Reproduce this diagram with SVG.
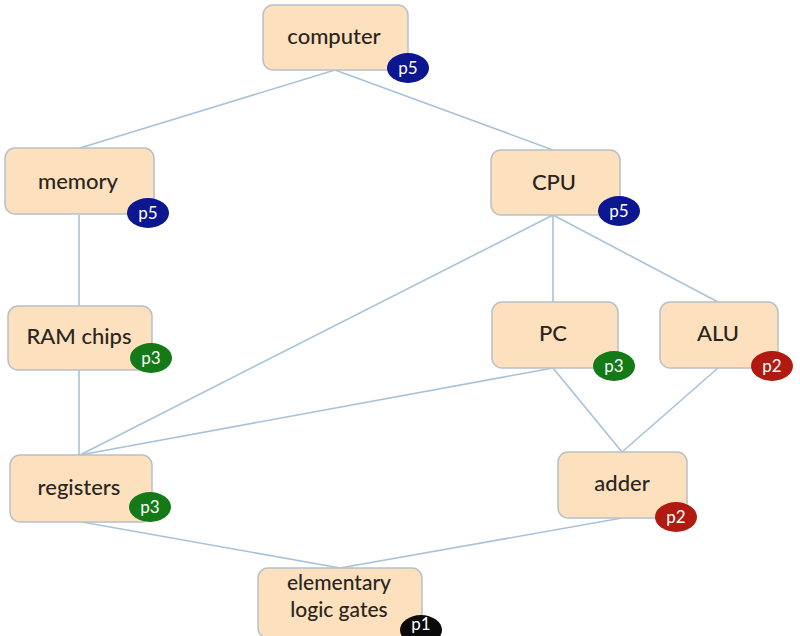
<svg xmlns="http://www.w3.org/2000/svg" width="800" height="636" viewBox="0 0 800 636">
<style>
.box{fill:#fde1be;stroke:#b9c0c8;stroke-width:1.5}
.lbl{font-family:Lato,"Open Sans","Liberation Sans",sans-serif;font-size:22px;font-weight:500;fill:#2b2420;text-anchor:middle}
.sm{font-size:21px}
.edge{stroke:#a8c2da;stroke-width:1.6;fill:none}
.bt{font-family:Lato,"Open Sans","Liberation Sans",sans-serif;font-size:17px;fill:#ffffff;text-anchor:middle}
.p5{fill:#0b1690}
.p3{fill:#137a17}
.p2{fill:#b11a10}
.p1{fill:#0a0a0a}
</style>
<rect width="800" height="636" fill="#ffffff"/>
<g id="connectors">
<line class="edge" x1="335" y1="70" x2="80" y2="148"/>
<line class="edge" x1="335" y1="70" x2="553" y2="150"/>
<line class="edge" x1="79" y1="215" x2="79" y2="306"/>
<line class="edge" x1="553" y1="215" x2="553" y2="302"/>
<line class="edge" x1="553" y1="215" x2="718" y2="302"/>
<line class="edge" x1="553" y1="215" x2="80" y2="455"/>
<line class="edge" x1="79" y1="370" x2="79" y2="455"/>
<line class="edge" x1="553" y1="368" x2="80" y2="455"/>
<line class="edge" x1="553" y1="368" x2="622" y2="452"/>
<line class="edge" x1="718" y1="368" x2="622" y2="452"/>
<line class="edge" x1="82" y1="522" x2="340" y2="568"/>
<line class="edge" x1="622" y1="518" x2="340" y2="568"/>
</g>
<g id="computer">
<rect class="box" x="263" y="5" width="145" height="65" rx="10"/>
<text class="lbl" x="334" y="44">computer</text>
<ellipse class="p5" cx="408" cy="68" rx="21" ry="15"/>
<text class="bt" x="408" y="74">p5</text>
</g>
<g id="memory">
<rect class="box" x="5" y="148" width="149" height="66" rx="10"/>
<text class="lbl" x="78" y="189">memory</text>
<ellipse class="p5" cx="148" cy="213" rx="21" ry="15"/>
<text class="bt" x="148" y="219">p5</text>
</g>
<g id="cpu">
<rect class="box" x="491" y="150" width="129" height="65" rx="10"/>
<text class="lbl" x="554" y="190">CPU</text>
<ellipse class="p5" cx="619" cy="211" rx="21" ry="15"/>
<text class="bt" x="619" y="217">p5</text>
</g>
<g id="ram-chips">
<rect class="box" x="8" y="306" width="144" height="64" rx="10"/>
<text class="lbl" x="79" y="344">RAM chips</text>
<ellipse class="p3" cx="151" cy="358" rx="21" ry="15"/>
<text class="bt" x="151" y="364">p3</text>
</g>
<g id="pc">
<rect class="box" x="492" y="302" width="126" height="66" rx="10"/>
<text class="lbl" x="553" y="341">PC</text>
<ellipse class="p3" cx="614" cy="366" rx="21" ry="15"/>
<text class="bt" x="614" y="372">p3</text>
</g>
<g id="alu">
<rect class="box" x="660" y="302" width="118" height="66" rx="10"/>
<text class="lbl" x="718" y="341">ALU</text>
<ellipse class="p2" cx="772" cy="366" rx="21" ry="15"/>
<text class="bt" x="772" y="372">p2</text>
</g>
<g id="registers">
<rect class="box" x="10" y="455" width="142" height="67" rx="10"/>
<text class="lbl" x="79" y="495">registers</text>
<ellipse class="p3" cx="150" cy="507" rx="21" ry="15"/>
<text class="bt" x="150" y="513">p3</text>
</g>
<g id="adder">
<rect class="box" x="558" y="452" width="129" height="66" rx="10"/>
<text class="lbl" x="622" y="491">adder</text>
<ellipse class="p2" cx="676" cy="517" rx="21" ry="15"/>
<text class="bt" x="676" y="523">p2</text>
</g>
<g id="elementary-logic-gates">
<rect class="box" x="258" y="568" width="164" height="70" rx="10"/>
<text class="lbl sm" x="339" y="590">elementary</text>
<text class="lbl sm" x="339" y="617">logic gates</text>
<ellipse class="p1" cx="421" cy="630" rx="21" ry="15"/>
<text class="bt" x="421" y="630">p1</text>
</g>
</svg>
